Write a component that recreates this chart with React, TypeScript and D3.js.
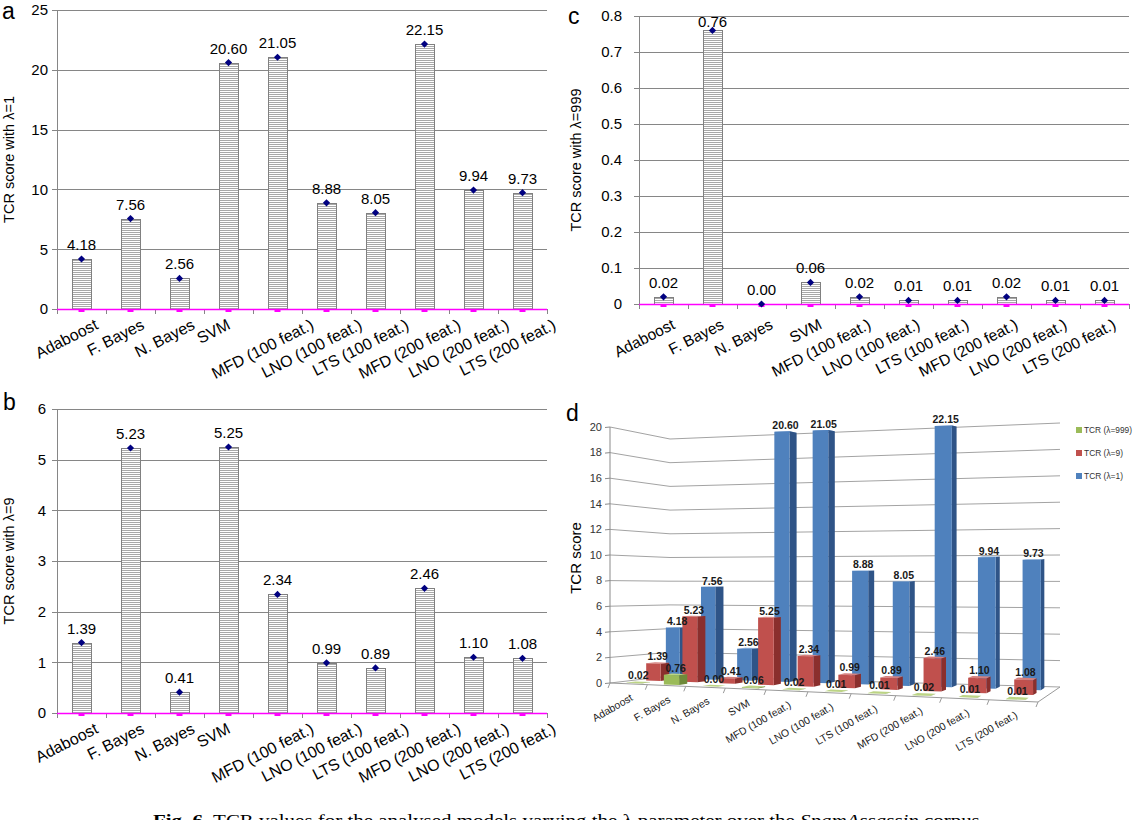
import React from 'react';
import * as d3 from 'd3';

// ---------- data ----------
const categories = [
  'Adaboost', 'F. Bayes', 'N. Bayes', 'SVM', 'MFD (100 feat.)', 'LNO (100 feat.)',
  'LTS (100 feat.)', 'MFD (200 feat.)', 'LNO (200 feat.)', 'LTS (200 feat.)',
];
const tcrLambda1 = [4.18, 7.56, 2.56, 20.6, 21.05, 8.88, 8.05, 22.15, 9.94, 9.73];
const tcrLambda9 = [1.39, 5.23, 0.41, 5.25, 2.34, 0.99, 0.89, 2.46, 1.1, 1.08];
const tcrLambda999 = [0.02, 0.76, 0.0, 0.06, 0.02, 0.01, 0.01, 0.02, 0.01, 0.01];
const ticksA = [0, 5, 10, 15, 20, 25];
const ticksB = [0, 1, 2, 3, 4, 5, 6];
const ticksC = [0, 0.1, 0.2, 0.3, 0.4, 0.5, 0.6, 0.7, 0.8];
const ticksD = [0, 2, 4, 6, 8, 10, 12, 14, 16, 18, 20];
const seriesNames = ['TCR (λ=999)', 'TCR (λ=9)', 'TCR (λ=1)'];
const seriesValues = [tcrLambda999, tcrLambda9, tcrLambda1];

// ---------- styles ----------
const SANS = "'Liberation Sans', Arial, Helvetica, sans-serif";
const seriesFaces = [
  { front: '#9bbb59', side: '#6f8a3a', top: '#bcd484' },
  { front: '#c0504d', side: '#8a2f2d', top: '#d6807d' },
  { front: '#4f81bd', side: '#2f5487', top: '#7ba2d2' },
];
const legendWidths = [48, 39, 39];

const crisp = (v: number) => Math.round(v) + 0.5;

let measureCtx: CanvasRenderingContext2D | null = null;
function textWidth(s: string, size: number) {
  if (typeof document !== 'undefined') {
    if (!measureCtx) measureCtx = document.createElement('canvas').getContext('2d');
    if (measureCtx) {
      measureCtx.font = `${size}px 'Liberation Sans', Arial, sans-serif`;
      return measureCtx.measureText(s).width;
    }
  }
  return s.length * size * 0.5;
}

const ANG = 27;
const SIN = Math.sin((ANG * Math.PI) / 180);
const COS = Math.cos((ANG * Math.PI) / 180);

function Panel2D(props: any) {
  const { values, ticks, yMax, left, right, top, bottom, title, titleX, letter, letterX, letterY, tickLabelX, fmt, labelMode, labelSize } = props;
  const x = d3.scaleBand<string>().domain(categories).range([left, right]);
  const y = d3.scaleLinear().domain([0, yMax]).range([bottom, top]);
  const bw = x.bandwidth();
  const barW = Math.round(bw * 0.39);
  const y0 = y(0);
  const diamond = d3.symbol().type(d3.symbolSquare).size(26)() as string;
  return (
    <g fontFamily={SANS}>
      {ticks.filter((t: number) => t !== 0).map((t: number) => (
        <line key={`g${t}`} x1={left} x2={right} y1={crisp(y(t))} y2={crisp(y(t))} stroke="#868686" strokeWidth={1} />
      ))}
      <line x1={crisp(left)} x2={crisp(left)} y1={top} y2={y0} stroke="#868686" />
      {ticks.map((t: number) => (
        <line key={`t${t}`} x1={left - 5} x2={left} y1={crisp(y(t))} y2={crisp(y(t))} stroke="#868686" />
      ))}
      {ticks.map((t: number) => (
        <text key={`l${t}`} x={tickLabelX} y={y(t)} dy="0.36em" textAnchor="end" fontSize={15} fill="#000">{fmt(t)}</text>
      ))}
      {categories.map((c, i) => {
        const bx = Math.round((x(c) as number) + (bw - barW) / 2) + 0.5;
        const yt = crisp(y(values[i]));
        return (
          <rect key={`b${i}`} x={bx} y={yt} width={barW} height={Math.max(0, crisp(y0) - yt)}
            fill="url(#hstripes)" stroke="#808080" strokeWidth={1} />
        );
      })}
      {d3.range(categories.length + 1).map((j) => {
        const xx = crisp(left + j * bw);
        return <line key={`xt${j}`} x1={xx} x2={xx} y1={y0} y2={y0 + 5} stroke="#868686" />;
      })}
      <line x1={left} x2={right} y1={crisp(y0)} y2={crisp(y0)} stroke="#ff00ff" strokeWidth={1.5} />
      {categories.map((c, i) => (
        <rect key={`m${i}`} x={(x(c) as number) + bw / 2 - 3} y={y0} width={6} height={3} fill="#ff00ff" />
      ))}
      {categories.map((c, i) => (
        <path key={`d${i}`} d={diamond} fill="#000080"
          transform={`translate(${(x(c) as number) + bw / 2},${y(values[i])}) rotate(45)`} />
      ))}
      {categories.map((c, i) => (
        <text key={`v${i}`} x={(x(c) as number) + bw / 2} y={Math.max(y(values[i]) - 9, top + 11)}
          textAnchor="middle" fontSize={15} fill="#000">{values[i].toFixed(2)}</text>
      ))}
      {categories.map((c, i) => {
        const cx = (x(c) as number) + bw / 2;
        if (labelMode === 'center') {
          const L = textWidth(c, labelSize);
          const Cx = cx - 15;
          const Cy = y0 + 9 + (L / 2) * SIN + 0.37 * labelSize * COS;
          return (
            <text key={`c${i}`} textAnchor="middle" dy="0.35em" fontSize={labelSize} fill="#000"
              transform={`translate(${Cx},${Cy}) rotate(${-ANG})`}>{c}</text>
          );
        }
        return (
          <text key={`c${i}`} textAnchor="end" fontSize={labelSize} fill="#000"
            transform={`translate(${cx + 12.5},${y0 + 24}) rotate(${-ANG})`}>{c}</text>
        );
      })}
      <text transform={`translate(${titleX},${(top + bottom) / 2}) rotate(-90)`} textAnchor="middle" fontSize={14.5} fill="#000">{title}</text>
      <text x={letterX} y={letterY} fontSize={23} fill="#000">{letter}</text>
    </g>
  );
}

// 3D frame (screen corners of the floor / per-unit heights)
const FLB = [610, 683];
const FRB = [1038, 702];
const BLB = [670, 676];
const BRB = [1060, 687];
const H_FL = 12.8, H_FR = 14.2, H_BL = 11.85, H_BR = 13.2;
const PERSP_R = 1.162;

function Panel3D() {
  const xIdx = d3.scaleBand<string>().domain(categories).range([0, 10]);
  const zIdx = d3.scaleBand<string>().domain(seriesNames).range([0, 3]);
  const yClamp = d3.scaleLinear().domain([0, 20]).range([0, 20]).clamp(true);
  const xn = d3.scaleLinear().domain([0, 10]).range([0, 1]);
  const zn = d3.scaleLinear().domain([0, 3]).range([0, 1]);
  const persp = (t: number) => t / (t + PERSP_R * (1 - t));
  const proj = (X: number, Y: number, Z: number): [number, number] => {
    const a = persp(xn(X));
    const b = zn(Z);
    const fu = (1 - b) * (FLB[0] + a * (FRB[0] - FLB[0])) + b * (BLB[0] + a * (BRB[0] - BLB[0]));
    const fv = (1 - b) * (FLB[1] + a * (FRB[1] - FLB[1])) + b * (BLB[1] + a * (BRB[1] - BLB[1]));
    const h = (1 - b) * (H_FL + a * (H_FR - H_FL)) + b * (H_BL + a * (H_BR - H_BL));
    return [fu, fv - Y * h];
  };
  const poly = (arr: number[][]) => arr.map((p) => proj(p[0], p[1], p[2]).map((n) => n.toFixed(2)).join(',')).join(' ');
  const line = (a: number[], b: number[], key: string, stroke = '#a3a3a3') => {
    const p = proj(a[0], a[1], a[2]);
    const q = proj(b[0], b[1], b[2]);
    return <line key={key} x1={p[0]} y1={p[1]} x2={q[0]} y2={q[1]} stroke={stroke} strokeWidth={1} />;
  };

  const bars: any[] = [];
  const labels: any[] = [];
  for (let k = seriesNames.length - 1; k >= 0; k--) {
    const s = seriesNames[k];
    categories.forEach((c, i) => {
      const v = seriesValues[k][i];
      const X0 = (xIdx(c) as number) + 0.3, X1 = X0 + 0.4;
      const Z0 = (zIdx(s) as number) + 0.275, Z1 = Z0 + 0.45;
      const H = yClamp(v);
      const col = seriesFaces[k];
      const topF = [[X0, H, Z0], [X1, H, Z0], [X1, H, Z1], [X0, H, Z1]];
      const side = [[X1, 0, Z0], [X1, 0, Z1], [X1, H, Z1], [X1, H, Z0]];
      const front = [[X0, 0, Z0], [X1, 0, Z0], [X1, H, Z0], [X0, H, Z0]];
      bars.push(
        <g key={`bar${k}-${i}`}>
          <polygon points={poly(topF)} fill={col.top} />
          <polygon points={poly(side)} fill={col.side} />
          <polygon points={poly(front)} fill={col.front} />
        </g>
      );
      const minV = Math.min(...topF.map((p) => proj(p[0], p[1], p[2])[1]));
      const cx = proj((X0 + X1) / 2, H, (Z0 + Z1) / 2)[0];
      labels.push(
        <text key={`lab${k}-${i}`} x={cx} y={minV - 2} textAnchor="middle" fontSize={10.5} fontWeight="bold" fill="#1a1a1a">{v.toFixed(2)}</text>
      );
    });
  }

  return (
    <g fontFamily={SANS}>
      {ticksD.map((t) => line([0, t, 0], [0, t, 3], `lw${t}`))}
      {ticksD.map((t) => line([0, t, 3], [10, t, 3], `bw${t}`))}
      {line([0, 0, 0], [10, 0, 0], 'ff', '#9a9a9a')}
      {line([10, 0, 0], [10, 0, 3], 'fr', '#9a9a9a')}
      {line([0, 0, 0], [0, 20, 0], 'va', '#8a8a8a')}
      {ticksD.map((t) => {
        const p = proj(0, t, 0);
        return <line key={`vt${t}`} x1={p[0] - 5} x2={p[0]} y1={p[1] + 0.5} y2={p[1]} stroke="#8a8a8a" />;
      })}
      {ticksD.map((t) => {
        const p = proj(0, t, 0);
        return <text key={`vl${t}`} x={p[0] - 8} y={p[1]} dy="0.35em" textAnchor="end" fontSize={11} fill="#333">{t}</text>;
      })}
      {d3.range(categories.length + 1).map((j) => {
        const p = proj(j, 0, 0);
        return <line key={`ct${j}`} x1={p[0]} y1={p[1]} x2={p[0] - 2} y2={p[1] + 5} stroke="#9a9a9a" />;
      })}
      {bars}
      {labels}
      {categories.map((c) => {
        const p = proj((xIdx(c) as number) + 0.5, 0, 0);
        return (
          <text key={`cl${c}`} textAnchor="end" fontSize={10.5} fill="#1a1a1a"
            transform={`translate(${p[0] + 5},${p[1] + 16}) rotate(-30)`}>{c}</text>
        );
      })}
      <text transform="translate(581,558) rotate(-90)" textAnchor="middle" fontSize={15} fill="#000">TCR score</text>
      <text x={566} y={421} fontSize={23} fill="#000">d</text>
      {seriesNames.map((s, k) => (
        <g key={`lg${k}`} transform={`translate(1076,${430 + k * 23})`}>
          <rect x={0} y={-3} width={6} height={6} fill={seriesFaces[k].front} />
          <text x={8} y={0} dy="0.35em" fontSize={9.3} fill="#333" textLength={legendWidths[k]} lengthAdjust="spacingAndGlyphs">{s}</text>
        </g>
      ))}
    </g>
  );
}

export default function App() {
  return (
    <svg width={1136} height={820} style={{ position: 'absolute', left: 0, top: 0, background: '#fff' }}>
      <defs>
        <pattern id="hstripes" patternUnits="userSpaceOnUse" width="8" height="2">
          <rect width="8" height="2" fill="#ffffff" />
          <rect width="8" height="1" fill="#a8a8a8" />
        </pattern>
      </defs>
      <rect width={1136} height={820} fill="#fff" />
      <Panel2D values={tcrLambda1} ticks={ticksA} yMax={25} left={57} right={547} top={10} bottom={309}
        title="TCR score with λ=1" titleX={14} letter="a" letterX={2} letterY={19} tickLabelX={48}
        fmt={(d: number) => String(d)} labelMode="center" labelSize={16} />
      <Panel2D values={tcrLambda9} ticks={ticksB} yMax={6} left={57} right={547} top={409} bottom={713}
        title="TCR score with λ=9" titleX={14} letter="b" letterX={3} letterY={410} tickLabelX={46}
        fmt={(d: number) => String(d)} labelMode="center" labelSize={16} />
      <Panel2D values={tcrLambda999} ticks={ticksC} yMax={0.8} left={639} right={1129} top={16} bottom={304}
        title="TCR score with λ=999" titleX={581} letter="c" letterX={568} letterY={24} tickLabelX={622}
        fmt={(d: number) => (d === 0 ? '0' : d.toFixed(1))} labelMode="end" labelSize={15.5} />
      <Panel3D />
      <text x={153} y={826} fontFamily="'Liberation Serif', 'DejaVu Serif', serif" fontSize={16} fill="#000"
        textLength={832} lengthAdjust="spacingAndGlyphs">
        <tspan fontWeight="bold">Fig. 6.</tspan> TCR values for the analysed models varying the λ parameter over the <tspan fontStyle="italic">SpamAssassin</tspan> corpus.
      </text>
    </svg>
  );
}
